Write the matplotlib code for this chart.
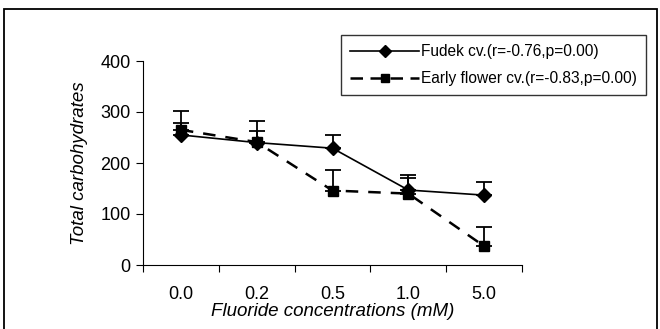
import numpy as np
import matplotlib.pyplot as plt
from matplotlib.patches import Rectangle
from matplotlib.lines import Line2D

plt.rcParams['font.family'] = ['Liberation Sans', 'DejaVu Sans']

conc = ['0.0', '0.2', '0.5', '1.0', '5.0']
fudek = [255, 240, 229, 147, 137]
fudek_err = [24, 22, 26, 29, 26]
early = [265, 241, 146, 140, 37]
early_err = [37, 41, 40, 30, 38]

fig = plt.figure(figsize=(6.6, 3.29), dpi=100)
ax = fig.add_axes([143/660, 1 - 265/329, (522-143)/660, (265-61)/329])

# outer frame
fig.patches.append(Rectangle((4/660, -0.05), 653/660, 1.05 - 9.5/329,
                             transform=fig.transFigure, fill=False,
                             edgecolor='black', linewidth=1.3))

x = np.arange(len(conc))
ax.errorbar(x, fudek, yerr=[np.zeros(5), fudek_err], color='black', lw=1.2,
            marker='D', markersize=7, capsize=6, capthick=1.3, elinewidth=1.3)
ax.errorbar(x, early, yerr=[np.zeros(5), early_err], color='black', lw=1.8,
            ls=(0, (5, 4)), marker='s', markersize=7, capsize=6,
            capthick=1.3, elinewidth=1.3)

ax.set_xlim(-0.5, 4.5)
ax.set_ylim(0, 400)
ax.set_yticks([0, 100, 200, 300, 400])
ax.set_xticks(np.arange(-0.5, 5, 1))
ax.set_xticklabels([])
ax.set_xticks(x, minor=True)
ax.set_xticklabels(conc, minor=True)
ax.tick_params(axis='x', which='major', length=5, direction='out')
ax.tick_params(axis='x', which='minor', length=0, pad=15, labelsize=13)
ax.tick_params(axis='y', length=5, pad=4, labelsize=13)
ax.spines['top'].set_visible(False)
ax.spines['right'].set_visible(False)

ax.set_xlabel('Fluoride concentrations (mM)', fontsize=13.5, style='italic', labelpad=0)
ax.set_ylabel('Total carbohydrates', fontsize=13.5, style='italic', labelpad=9)

handles = [
    Line2D([], [], color='black', lw=1.2, marker='D', markersize=6),
    Line2D([], [], color='black', lw=1.8, ls=(0, (5, 3)), marker='s', markersize=6),
]
labels = ['Fudek cv.(r=-0.76,p=0.00)', 'Early flower cv.(r=-0.83,p=0.00)']
leg = fig.legend(handles, labels, loc='upper left',
                 bbox_to_anchor=(341/660, 1 - 35/329),
                 fontsize=11.2, frameon=True, fancybox=False, edgecolor='black',
                 handlelength=4.4, handletextpad=0.15, borderpad=0.6,
                 labelspacing=0.75, borderaxespad=0)
leg.get_frame().set_linewidth(1.0)

fig.savefig('out.png', dpi=100)
